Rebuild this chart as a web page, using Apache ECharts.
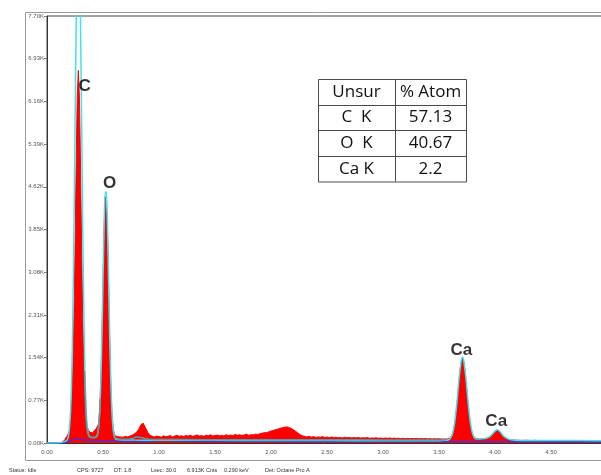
<!DOCTYPE html>
<html>
<head>
<meta charset="utf-8">
<script src="https://cdn.jsdelivr.net/npm/echarts@6/dist/echarts.min.js"></script>
<style>
html,body{margin:0;padding:0;background:#fff;}
#c{width:601px;height:475px;}
</style>
</head>
<body>
<div id="c"></div>
<script>
// ---- Data (energy keV, counts) ----
const xTickLabels = ['0.00','0.50','1.00','1.50','2.00','2.50','3.00','3.50','4.00','4.50','5.00'];
const yTickLabels = ['0.00K','0.77K','1.54K','2.31K','3.08K','3.85K','4.62K','5.39K','6.16K','6.93K','7.70K'];

const measured = [
[0.00,0],[0.02,0],[0.04,0],[0.06,0],[0.08,0],[0.10,4],[0.12,8],[0.14,20],
[0.15,40],[0.16,62],[0.17,95],[0.18,130],[0.19,170],[0.20,225],[0.21,380],[0.22,700],[0.23,1300],[0.24,2250],
[0.25,3500],[0.26,5000],[0.27,6250],[0.28,6720],[0.29,6200],[0.30,4900],[0.31,3450],[0.32,2200],[0.33,1300],
[0.34,760],[0.35,420],[0.36,280],[0.37,230],[0.38,200],[0.39,190],[0.40,215],[0.41,180],[0.42,220],[0.43,200],
[0.44,260],[0.45,250],[0.46,340],[0.47,580],[0.48,1060],[0.49,1840],[0.50,2870],[0.51,3890],[0.52,4440],
[0.53,4420],[0.54,3880],[0.55,2850],[0.56,1810],[0.57,1010],[0.58,520],[0.59,270],[0.60,170],[0.61,130],
[0.62,120],[0.63,115],[0.64,125],[0.65,110],[0.66,118],
[0.68,105],[0.70,120],[0.72,110],[0.74,125],[0.76,140],[0.78,165],[0.80,195],[0.82,250],[0.84,335],[0.86,355],
[0.88,270],[0.90,190],[0.92,140],[0.94,120],[0.96,110],[0.98,125],[1.00,115],
[1.02,105],[1.04,130],[1.06,115],[1.08,120],[1.10,135],[1.12,110],[1.14,125],[1.16,140],[1.18,120],[1.20,130],
[1.22,115],[1.24,135],[1.26,125],[1.28,140],[1.30,120],[1.32,130],[1.34,145],[1.36,125],[1.38,135],[1.40,120],
[1.42,140],[1.44,130],[1.46,150],[1.48,125],[1.50,135],[1.52,145],[1.54,130],[1.56,140],[1.58,125],[1.60,150],
[1.62,135],[1.64,145],[1.66,130],[1.68,155],[1.70,140],[1.72,150],[1.74,135],[1.76,145],[1.78,160],[1.80,140],
[1.82,150],[1.84,145],[1.86,160],[1.88,155],[1.90,165],[1.92,175],[1.94,185],[1.96,190],[1.98,200],[2.00,215],
[2.02,225],[2.04,240],[2.06,250],[2.08,265],[2.10,275],[2.12,285],[2.14,290],[2.16,280],[2.18,265],[2.20,240],
[2.22,210],[2.24,180],[2.26,150],[2.28,130],[2.30,120],
[2.32,110],[2.34,120],[2.36,105],[2.38,115],[2.40,100],[2.42,110],[2.44,105],[2.46,115],[2.48,100],[2.50,108],
[2.52,95],[2.54,110],[2.56,100],[2.58,105],[2.60,95],[2.62,100],[2.64,92],[2.66,105],[2.68,95],[2.70,100],
[2.72,90],[2.74,98],[2.76,92],[2.78,100],[2.80,88],[2.82,95],[2.84,90],[2.86,98],[2.88,85],[2.90,92],
[2.92,88],[2.94,95],[2.96,85],[2.98,90],[3.00,82],[3.02,90],[3.04,85],[3.06,92],[3.08,80],[3.10,88],
[3.12,82],[3.14,86],[3.16,78],[3.18,85],[3.20,80],[3.22,84],[3.24,76],[3.26,82],[3.28,78],[3.30,84],
[3.32,75],[3.34,80],[3.36,76],[3.38,82],[3.40,74],[3.42,78],[3.44,72],[3.46,78],[3.48,74],[3.50,76],
[3.52,72],[3.54,70],[3.56,74],[3.58,72],[3.59,80],[3.60,92],[3.61,115],[3.62,158],[3.63,229],[3.64,337],
[3.65,490],[3.66,685],[3.67,910],[3.68,1139],[3.69,1342],[3.70,1480],[3.71,1530],[3.72,1480],[3.73,1342],
[3.74,1139],[3.75,910],[3.76,685],[3.77,490],[3.78,337],[3.79,229],[3.80,158],[3.81,115],[3.82,92],[3.83,80],
[3.84,74],[3.86,70],[3.88,72],[3.90,70],[3.92,72],[3.94,80],[3.96,110],[3.98,160],[4.00,210],[4.02,235],
[4.04,212],[4.06,160],[4.08,108],[4.10,78],[4.12,66],[4.14,58],[4.16,55],[4.18,52],[4.20,50],
[4.24,46],[4.28,50],[4.32,44],[4.36,48],[4.40,42],[4.44,46],[4.48,40],[4.52,45],[4.56,41],[4.60,44],
[4.64,39],[4.68,43],[4.72,40],[4.76,42],[4.80,38],[4.84,41],[4.88,37],[4.92,40],[4.96,36],[5.00,38]
];

const fitEnvelope = [
[0.00,0],[0.10,0],[0.15,20],[0.18,55],[0.19,116],[0.20,259],[0.21,573],[0.22,1181],[0.23,2207],[0.24,3727],
[0.25,5627],[0.26,7486],[0.27,9009],[0.28,9560],[0.29,9009],[0.30,7486],[0.31,5627],[0.32,3727],[0.33,2207],
[0.34,1181],[0.35,573],[0.36,290],[0.37,160],[0.38,115],[0.40,100],[0.43,100],[0.44,110],[0.45,141],[0.46,270],
[0.47,557],[0.48,1089],[0.49,1908],[0.50,2936],[0.51,3924],[0.52,4528],[0.53,4528],[0.54,3914],[0.55,2926],
[0.56,1898],[0.57,1079],[0.58,547],[0.59,260],[0.60,131],[0.61,80],[0.62,62],[0.70,55],[0.78,52],[0.90,50],
[1.00,50],[1.50,48],[2.00,46],[2.50,44],[3.00,42],[3.50,42],[3.56,48],[3.58,53],[3.60,79],[3.62,164],[3.64,369],
[3.66,732],[3.68,1177],[3.70,1498],[3.71,1545],[3.72,1498],[3.74,1177],[3.76,732],[3.78,369],[3.80,164],
[3.82,85],[3.84,70],[3.88,75],[3.92,85],[3.96,130],[4.00,215],[4.02,240],[4.04,215],[4.08,120],[4.12,70],
[4.16,52],[4.20,46],[4.50,44],[5.00,42]
];

const peakFit = [
[0.335,1300],[0.34,900],[0.35,420],[0.36,220],[0.37,140],[0.38,110],[0.40,100],[0.42,100],[0.44,110],
[0.45,150],[0.46,260],[0.47,520],[0.475,800],[0.48,'-'],
[0.60,110],[0.62,80],[0.66,68],[0.72,66],[0.76,80],[0.80,110],[0.84,100],[0.88,76],[0.95,64],[1.20,62],
[1.60,60],[2.00,60],[2.50,58],[3.00,56],[3.56,54]
];

const background = [
[0.00,0],[0.15,0],[0.18,20],[0.22,55],[0.27,70],[0.32,60],[0.40,45],[0.50,40],[0.58,42],[0.65,30],[0.80,25],
[0.95,35],[1.05,45],[1.15,35],[1.40,28],[2.00,25],[2.50,24],[3.00,22],[3.50,22],[3.70,26],[3.90,22],[4.00,24],
[4.50,20],[5.00,18]
];

const peakLabelText = ['C','O','Ca','Ca'];
const peakLabelKeV = [0.337, 0.56, 3.70, 4.011];
const peakLabelCounts = [6436, 4674, 1663, 398];

const tableHeader = ['Unsur','% Atom'];
const tableElements = ['C  K','O  K','Ca K'];
const tableAtomPercent = ['57.13','40.67','2.2'];

const statusTexts = ['Status: Idle','CPS: 9727','DT: 1.8','Lsec: 30.0','6.913K Cnts','0.290 keV','Det: Octane Pro A'];
const statusX = [9, 77, 114, 151, 187, 224, 265];

// ---- Chart ----
const chart = echarts.init(document.getElementById('c'), null, {renderer:'canvas'});

const gridBox = {left:47, top:16, width:560, height:427};

// table graphic
const tableColX = [318, 395, 466];
const tableRowY = [79, 104.5, 130, 156, 181.5];
const tableRows = [tableHeader].concat(tableElements.map((e,i)=>[e, tableAtomPercent[i]]));
const tableGraphic = [];
tableGraphic.push({type:'rect', shape:{x:tableColX[0]+0.5, y:tableRowY[0]+0.5, width:tableColX[2]-tableColX[0], height:tableRowY[4]-tableRowY[0]}, style:{fill:'#fff', stroke:'#4a4a4a', lineWidth:1}, z:100});
for (let r=1;r<4;r++){
  tableGraphic.push({type:'line', shape:{x1:tableColX[0], y1:Math.round(tableRowY[r])+0.5, x2:tableColX[2], y2:Math.round(tableRowY[r])+0.5}, style:{stroke:'#4a4a4a', lineWidth:1}, z:101});
}
tableGraphic.push({type:'line', shape:{x1:tableColX[1]+0.5, y1:tableRowY[0], x2:tableColX[1]+0.5, y2:tableRowY[4]}, style:{stroke:'#4a4a4a', lineWidth:1}, z:101});
tableRows.forEach((row, r)=>{
  row.forEach((txt, c)=>{
    tableGraphic.push({type:'text', x:(tableColX[c]+tableColX[c+1])/2, y:(tableRowY[r]+tableRowY[r+1])/2,
      style:{text:txt, fill:'#111', font:'17px "Open Sans", sans-serif', align:'center', verticalAlign:'middle'}, z:102});
  });
});

const statusGraphic = statusTexts.map((t,i)=>({type:'text', x:statusX[i], y:470,
  style:{text:t, fill:'#333', font:'5.5px "Liberation Sans", sans-serif', verticalAlign:'middle'}, z:10}));

const option = {
  animation:false,
  backgroundColor:'#ffffff',
  grid:Object.assign({show:true, borderColor:'#444', borderWidth:1, backgroundColor:'transparent', containLabel:false, outerBoundsMode:'none'}, gridBox),
  xAxis:{
    type:'value', min:0, max:5, interval:0.5,
    axisLine:{show:true, onZero:false, lineStyle:{color:'#333', width:1}},
    axisTick:{show:false},
    splitLine:{show:false},
    axisLabel:{fontSize:6, color:'#555', margin:6, fontFamily:'Liberation Sans',
      formatter:(v)=>xTickLabels[Math.round(v/0.5)] || ''}
  },
  yAxis:{
    type:'value', min:0, max:7700, interval:770,
    axisLine:{show:true, lineStyle:{color:'#333', width:1}},
    axisTick:{show:true, length:3, lineStyle:{color:'#777'}},
    splitLine:{show:false},
    axisLabel:{fontSize:6, color:'#555', margin:3, fontFamily:'Liberation Sans',
      formatter:(v)=>yTickLabels[Math.round(v/770)] || ''}
  },
  series:[
    {name:'measured', type:'line', data:measured, symbol:'none', clip:true,
      lineStyle:{color:'#ff0000', width:1}, areaStyle:{color:'#ff0000', opacity:1}, z:2},
    {name:'background', type:'line', data:background, symbol:'none', smooth:0.3, clip:true,
      lineStyle:{color:'#5a2bc0', width:1.5}, z:3},
    {name:'fit', type:'line', data:fitEnvelope, symbol:'none', smooth:0.25, clip:true,
      lineStyle:{color:'#3ee3f0', width:1.5}, z:4},
    {name:'peakFit', type:'line', data:peakFit, symbol:'none', smooth:0.3, clip:true, connectNulls:false,
      lineStyle:{color:'#5f9a9c', width:1.5}, z:5},
    {name:'labels', type:'scatter', symbolSize:0, z:20,
      data:peakLabelText.map((t,i)=>[peakLabelKeV[i], peakLabelCounts[i], t]),
      label:{show:true, position:'inside', formatter:(p)=>p.data[2], color:'#000',
        fontSize:17, fontWeight:'bold', fontFamily:'Liberation Sans'}}
  ],
  graphic:[
    {type:'rect', shape:{x:25.5, y:12.5, width:620, height:448}, style:{fill:null, stroke:'#9a9a9a', lineWidth:1}, z:1}
  ].concat(tableGraphic, statusGraphic)
};
chart.setOption(option);
</script>
</body>
</html>
